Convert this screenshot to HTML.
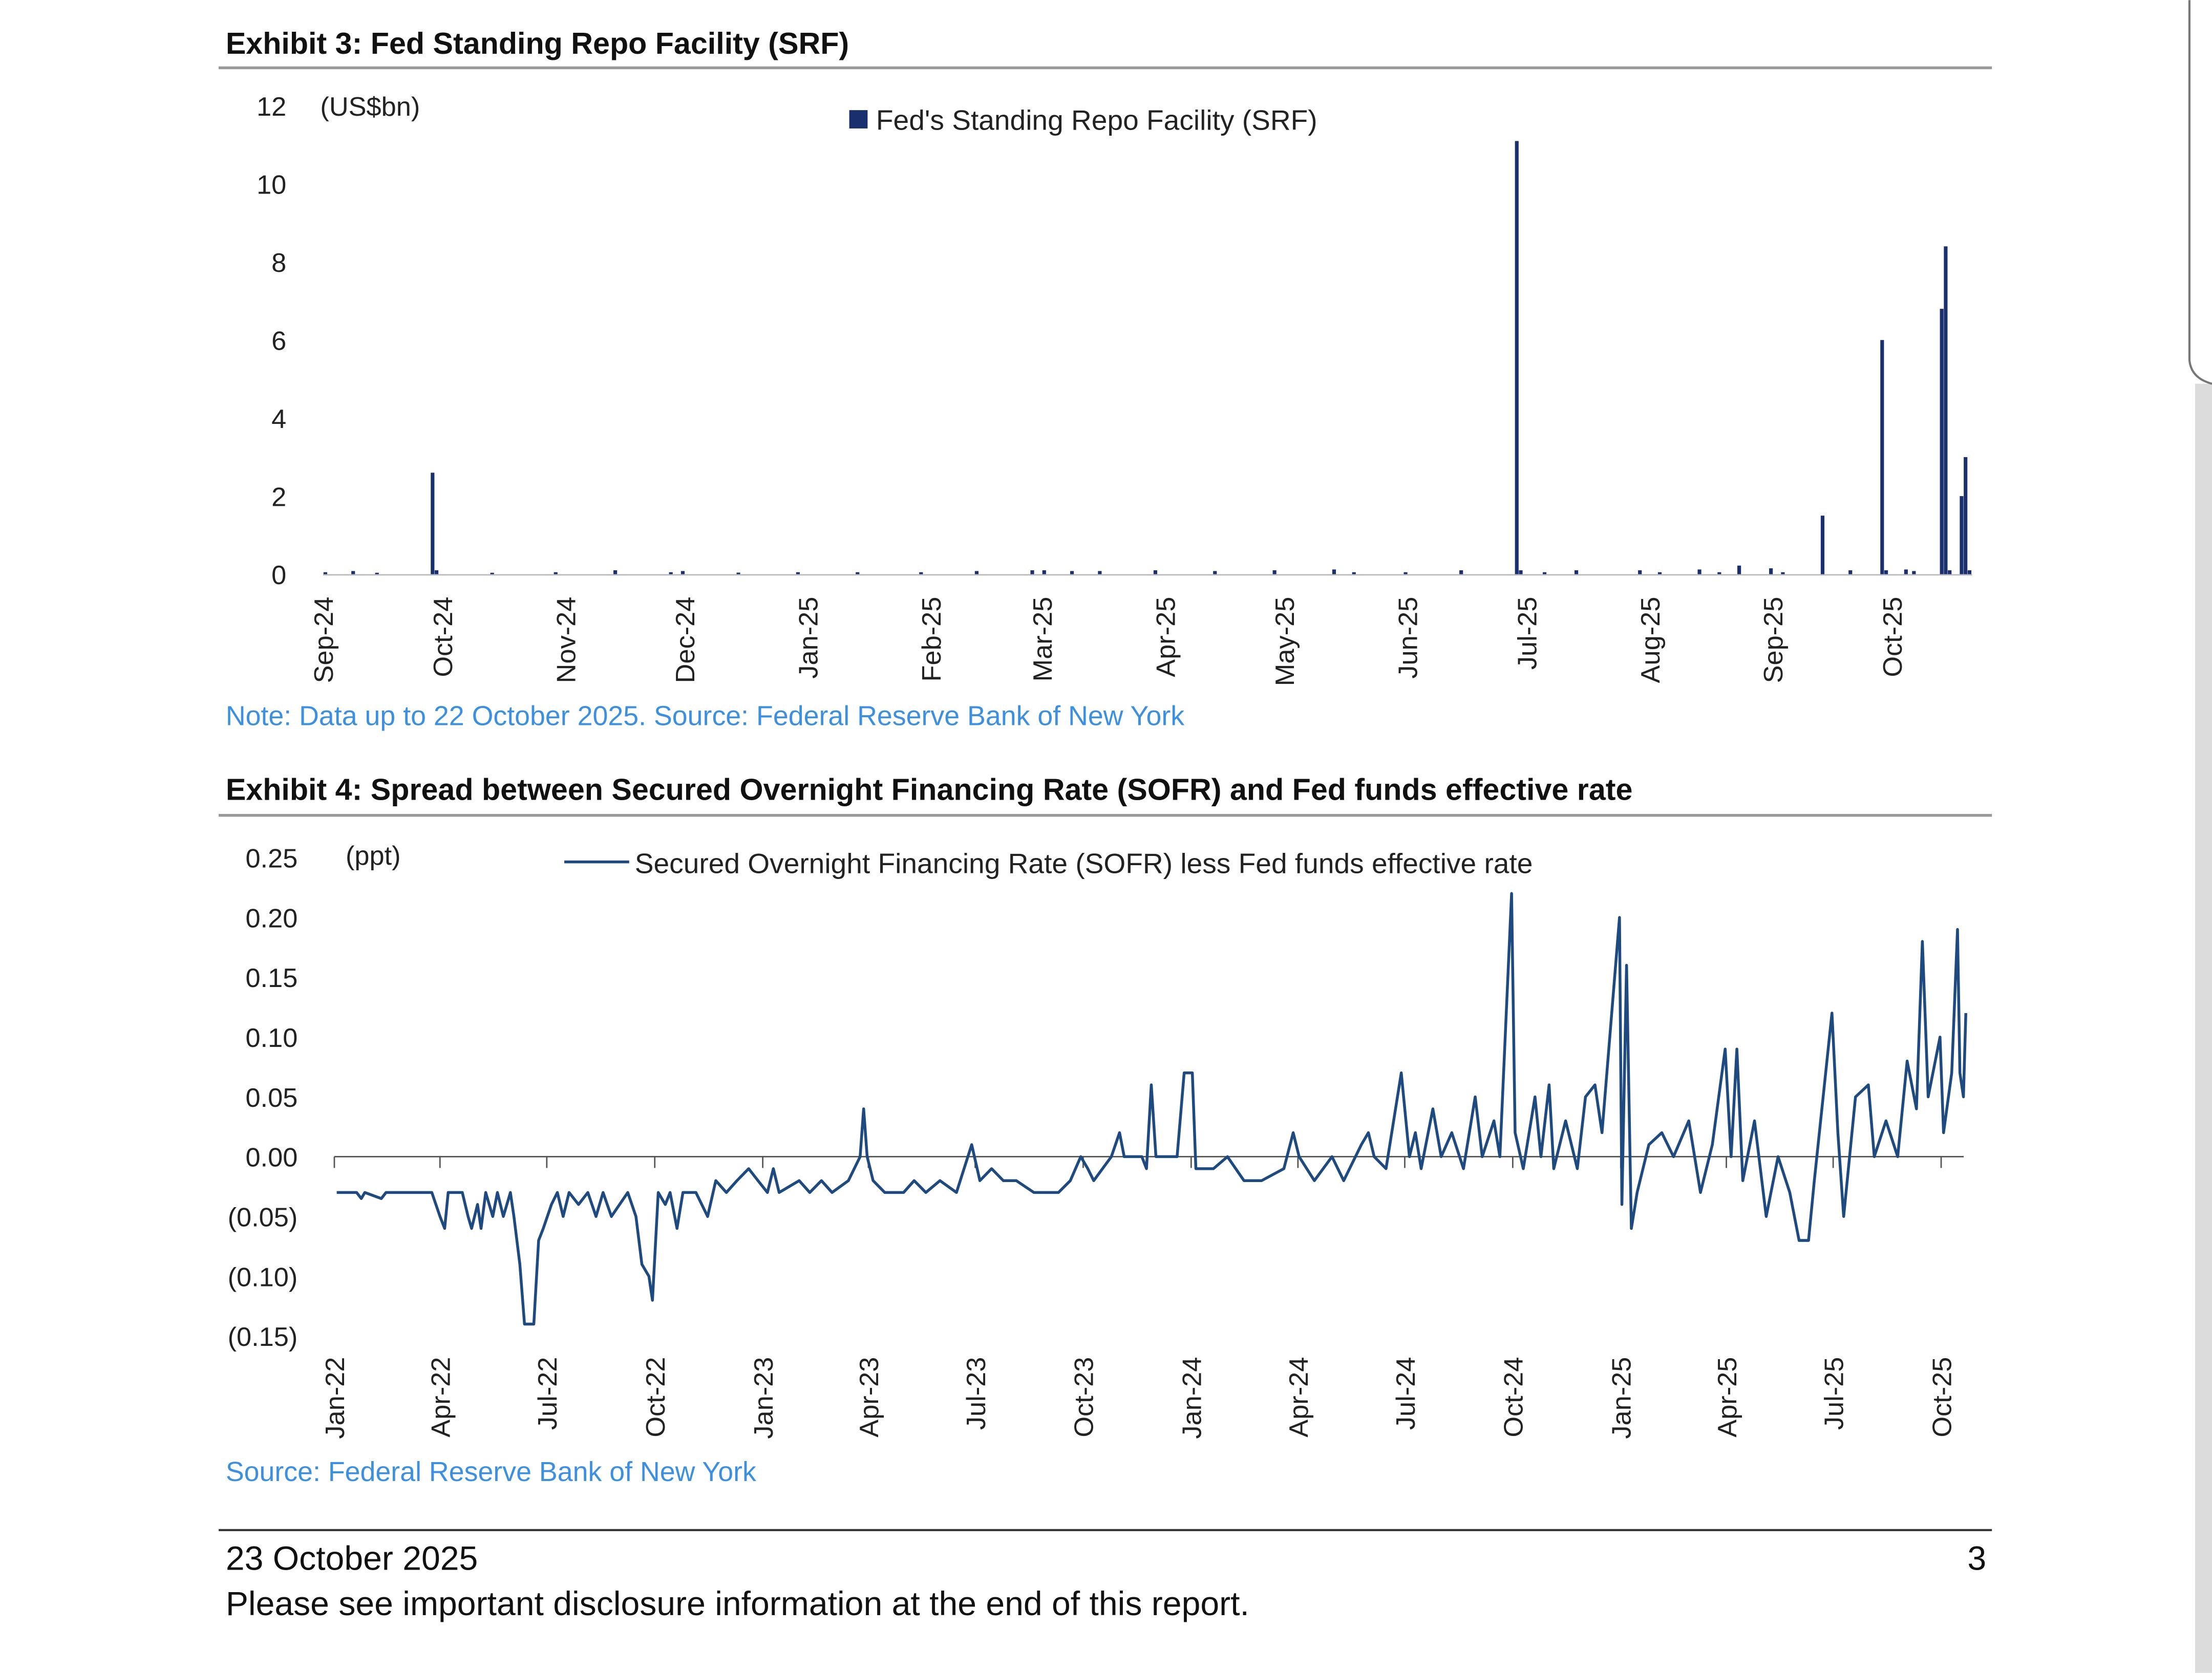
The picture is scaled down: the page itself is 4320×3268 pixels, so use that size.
<!DOCTYPE html>
<html><head><meta charset="utf-8"><style>
html,body{margin:0;padding:0;background:#fff;}
svg{display:block;font-family:"Liberation Sans",sans-serif;}
</style></head><body>
<svg id="page" width="4320" height="3268" viewBox="0 0 1568 1186" xmlns="http://www.w3.org/2000/svg">
<rect x="0" y="0" width="1568" height="1186" fill="#fff"/>
<rect x="1556" y="272" width="12" height="914" fill="#dcdcdc"/>
<path d="M1552 0 V255 Q1553 268 1568 272" fill="none" stroke="#777" stroke-width="1.5"/>

<text x="160" y="38" font-size="21.5" font-weight="bold" fill="#111">Exhibit 3: Fed Standing Repo Facility (SRF)</text>
<rect x="155" y="47" width="1257" height="2" fill="#999"/>
<g id="c1"></g>
<text x="160" y="514" font-size="19.5" fill="#3d8fe0">Note: Data up to 22 October 2025. Source: Federal Reserve Bank of New York</text>

<text x="160" y="567" font-size="21.5" font-weight="bold" fill="#111">Exhibit 4: Spread between Secured Overnight Financing Rate (SOFR) and Fed funds effective rate</text>
<rect x="155" y="577" width="1257" height="2" fill="#999"/>
<g id="c2"></g>
<text x="160" y="1050" font-size="19.5" fill="#3d8fe0">Source: Federal Reserve Bank of New York</text>

<rect x="155" y="1084" width="1257" height="1.5" fill="#333"/>
<text x="160" y="1113" font-size="24" fill="#111">23 October 2025</text>
<text x="1408" y="1113" font-size="24" fill="#111" text-anchor="end">3</text>
<text x="160" y="1145" font-size="24" fill="#111">Please see important disclosure information at the end of this report.</text>
</svg>
<script>
// ---- Chart 1 data ----
const srfDates = ["2024-09-03","2024-09-10","2024-09-16","2024-09-30","2024-10-01","2024-10-15","2024-10-31","2024-11-15","2024-11-29","2024-12-02","2024-12-16","2024-12-31","2025-01-15","2025-01-31","2025-02-14","2025-02-28","2025-03-03","2025-03-10","2025-03-17","2025-03-31","2025-04-15","2025-04-30","2025-05-15","2025-05-20","2025-06-02","2025-06-16","2025-06-30","2025-07-01","2025-07-07","2025-07-15","2025-07-31","2025-08-05","2025-08-15","2025-08-20","2025-08-25","2025-09-02","2025-09-05","2025-09-15","2025-09-22","2025-09-30","2025-10-01","2025-10-06","2025-10-08","2025-10-15","2025-10-16","2025-10-17","2025-10-20","2025-10-21","2025-10-22"];
const srfValues = [0.05,0.08,0.03,2.6,0.1,0.03,0.05,0.1,0.05,0.08,0.04,0.05,0.05,0.05,0.08,0.1,0.1,0.08,0.08,0.1,0.08,0.1,0.12,0.05,0.05,0.1,11.1,0.1,0.05,0.1,0.1,0.05,0.12,0.05,0.22,0.15,0.05,1.5,0.1,6.0,0.1,0.12,0.08,6.8,8.4,0.1,2.0,3.0,0.1];
const srfYTicks = [0,2,4,6,8,10,12];
const srfXTicks = ["2024-09-01","2024-10-01","2024-11-01","2024-12-01","2025-01-01","2025-02-01","2025-03-01","2025-04-01","2025-05-01","2025-06-01","2025-07-01","2025-08-01","2025-09-01","2025-10-01"];
const srfXLabels = ["Sep-24","Oct-24","Nov-24","Dec-24","Jan-25","Feb-25","Mar-25","Apr-25","May-25","Jun-25","Jul-25","Aug-25","Sep-25","Oct-25"];

// ---- Chart 2 data ----
const spreadDates = ["2022-01-03","2022-01-20","2022-01-24","2022-01-27","2022-02-10","2022-02-14","2022-03-25","2022-04-01","2022-04-05","2022-04-08","2022-04-20","2022-04-25","2022-04-28","2022-05-03","2022-05-06","2022-05-10","2022-05-16","2022-05-20","2022-05-25","2022-05-31","2022-06-03","2022-06-08","2022-06-12","2022-06-20","2022-06-24","2022-06-28","2022-07-05","2022-07-10","2022-07-15","2022-07-20","2022-07-28","2022-08-05","2022-08-12","2022-08-18","2022-08-25","2022-09-01","2022-09-08","2022-09-15","2022-09-20","2022-09-26","2022-09-29","2022-10-04","2022-10-10","2022-10-14","2022-10-20","2022-10-25","2022-11-05","2022-11-15","2022-11-22","2022-12-01","2022-12-10","2022-12-20","2022-12-28","2023-01-05","2023-01-10","2023-01-15","2023-02-01","2023-02-10","2023-02-20","2023-03-01","2023-03-15","2023-03-25","2023-03-28","2023-03-31","2023-04-05","2023-04-15","2023-05-01","2023-05-10","2023-05-20","2023-06-01","2023-06-15","2023-06-28","2023-07-05","2023-07-15","2023-07-25","2023-08-05","2023-08-20","2023-09-10","2023-09-20","2023-09-29","2023-10-05","2023-10-10","2023-10-25","2023-11-01","2023-11-05","2023-11-20","2023-11-24","2023-11-28","2023-12-02","2023-12-20","2023-12-26","2024-01-02","2024-01-05","2024-01-20","2024-02-01","2024-02-15","2024-03-01","2024-03-20","2024-03-28","2024-04-02","2024-04-15","2024-04-30","2024-05-10","2024-05-25","2024-05-31","2024-06-05","2024-06-15","2024-06-28","2024-07-05","2024-07-10","2024-07-15","2024-07-25","2024-08-01","2024-08-10","2024-08-20","2024-08-30","2024-09-05","2024-09-15","2024-09-20","2024-09-30","2024-10-03","2024-10-10","2024-10-20","2024-10-25","2024-11-01","2024-11-05","2024-11-15","2024-11-25","2024-12-02","2024-12-10","2024-12-16","2024-12-31","2025-01-02","2025-01-06","2025-01-10","2025-01-15","2025-01-25","2025-02-05","2025-02-15","2025-02-28","2025-03-10","2025-03-20","2025-03-31","2025-04-05","2025-04-10","2025-04-15","2025-04-25","2025-05-05","2025-05-15","2025-05-25","2025-06-02","2025-06-10","2025-06-15","2025-06-30","2025-07-05","2025-07-10","2025-07-20","2025-07-31","2025-08-05","2025-08-15","2025-08-25","2025-09-02","2025-09-10","2025-09-15","2025-09-20","2025-09-30","2025-10-03","2025-10-10","2025-10-15","2025-10-17","2025-10-20","2025-10-22"];
const spreadValues = [-0.03,-0.03,-0.035,-0.03,-0.035,-0.03,-0.03,-0.05,-0.06,-0.03,-0.03,-0.05,-0.06,-0.04,-0.06,-0.03,-0.05,-0.03,-0.05,-0.03,-0.05,-0.09,-0.14,-0.14,-0.07,-0.06,-0.04,-0.03,-0.05,-0.03,-0.04,-0.03,-0.05,-0.03,-0.05,-0.04,-0.03,-0.05,-0.09,-0.10,-0.12,-0.03,-0.04,-0.03,-0.06,-0.03,-0.03,-0.05,-0.02,-0.03,-0.02,-0.01,-0.02,-0.03,-0.01,-0.03,-0.02,-0.03,-0.02,-0.03,-0.02,0.00,0.04,0.00,-0.02,-0.03,-0.03,-0.02,-0.03,-0.02,-0.03,0.01,-0.02,-0.01,-0.02,-0.02,-0.03,-0.03,-0.02,0.00,-0.01,-0.02,0.00,0.02,0.00,0.00,-0.01,0.06,0.00,0.00,0.07,0.07,-0.01,-0.01,0.00,-0.02,-0.02,-0.01,0.02,0.00,-0.02,0.00,-0.02,0.01,0.02,0.00,-0.01,0.07,0.00,0.02,-0.01,0.04,0.00,0.02,-0.01,0.05,0.00,0.03,0.00,0.22,0.02,-0.01,0.05,0.00,0.06,-0.01,0.03,-0.01,0.05,0.06,0.02,0.20,-0.04,0.16,-0.06,-0.03,0.01,0.02,0.00,0.03,-0.03,0.01,0.09,0.00,0.09,-0.02,0.03,-0.05,0.00,-0.03,-0.07,-0.07,-0.02,0.12,0.02,-0.05,0.05,0.06,0.00,0.03,0.00,0.08,0.04,0.18,0.05,0.10,0.02,0.07,0.19,0.07,0.05,0.12];
const spreadYTicks = [0.25,0.20,0.15,0.10,0.05,0.00,-0.05,-0.10,-0.15];
const spreadYLabels = ["0.25","0.20","0.15","0.10","0.05","0.00","(0.05)","(0.10)","(0.15)"];
const spreadXTicks = ["2022-01-01","2022-04-01","2022-07-01","2022-10-01","2023-01-01","2023-04-01","2023-07-01","2023-10-01","2024-01-01","2024-04-01","2024-07-01","2024-10-01","2025-01-01","2025-04-01","2025-07-01","2025-10-01"];
const spreadXLabels = ["Jan-22","Apr-22","Jul-22","Oct-22","Jan-23","Apr-23","Jul-23","Oct-23","Jan-24","Apr-24","Jul-24","Oct-24","Jan-25","Apr-25","Jul-25","Oct-25"];

const NS = "http://www.w3.org/2000/svg";
const day = s => Date.UTC(+s.slice(0,4), +s.slice(5,7)-1, +s.slice(8,10)) / 86400000;
function mk(tag, attrs, parent, txt){ const e=document.createElementNS(NS,tag); for(const k in attrs) e.setAttribute(k,attrs[k]); if(txt!==undefined) e.textContent=txt; parent.appendChild(e); return e; }

// Chart 1
(function(){
  const g = document.getElementById('c1');
  const d0 = day("2024-09-01"), d1 = day("2025-10-01");
  const x = s => 225 + (day(s)-d0) * (1337-225)/(d1-d0);
  const y = v => 407 - v * (407-75)/12;
  srfYTicks.forEach(v=>{
    const t = mk('text',{x:203,y:y(v)+7,'font-size':19,'text-anchor':'end',fill:'#222'},g,String(v));
    
    
  });
  const u = mk('text',{x:227,y:82,'font-size':19,fill:'#222'},g,'(US$bn)');
  
  
  const ax = mk('line',{x1:229,y1:407.5,x2:1398,y2:407.5,stroke:'#bbb','stroke-width':1},g);
  
  
  srfXTicks.forEach((s,i)=>{
    const t = mk('text',{transform:`translate(${x(s)+11},423) rotate(-90)`,'font-size':19,'text-anchor':'end',fill:'#222'},g,srfXLabels[i]);
    
    
  });
  srfDates.forEach((s,i)=>{
    const v = srfValues[i];
    const h = Math.max(y(0)-y(v),1);
    const b = mk('rect',{x:x(s)-1.3,y:y(0)-h,width:2.6,height:h,fill:'#1a2f6e'},g);
    
    
  });
  const ls = mk('rect',{x:602,y:78,width:13,height:13,fill:'#1a2f6e'},g);
  
  
  const lt = mk('text',{x:621,y:92,'font-size':20,fill:'#222'},g,"Fed's Standing Repo Facility (SRF)");
  
  
})();

// Chart 2
(function(){
  const g = document.getElementById('c2');
  const d0 = day("2022-01-01"), d1 = day("2025-10-01");
  const x = s => 237 + (day(s)-d0) * (1376-237)/(d1-d0);
  const y = v => 820 - v * (42.4/0.05);
  spreadYTicks.forEach((v,i)=>{
    const t = mk('text',{x:211,y:y(v)+7,'font-size':19,'text-anchor':'end',fill:'#222'},g,spreadYLabels[i]);
    
    
  });
  const u = mk('text',{x:245,y:613,'font-size':19,fill:'#222'},g,'(ppt)');
  
  
  const ax = mk('line',{x1:237,y1:y(0),x2:1392,y2:y(0),stroke:'#555','stroke-width':1},g);
  
  
  spreadXTicks.forEach((s,i)=>{
    const tk = mk('line',{x1:x(s),y1:y(0),x2:x(s),y2:y(0)+8,stroke:'#555','stroke-width':1},g);
    
    
    const t = mk('text',{transform:`translate(${x(s)+7},962) rotate(-90)`,'font-size':19,'text-anchor':'end',fill:'#222'},g,spreadXLabels[i]);
    
    
  });
  const pts = spreadDates.map((s,i)=>x(s).toFixed(1)+','+y(spreadValues[i]).toFixed(1)).join(' ');
  const pl = mk('polyline',{points:pts,fill:'none',stroke:'#1f4a80','stroke-width':2,'stroke-linejoin':'round'},g);
  
  
  const ll = mk('line',{x1:400,y1:611,x2:446,y2:611,stroke:'#1f4a80','stroke-width':2},g);
  
  
  const lt = mk('text',{x:450,y:619,'font-size':20,fill:'#222'},g,'Secured Overnight Financing Rate (SOFR) less Fed funds effective rate');
  
  
})();
</script>
</body></html>
